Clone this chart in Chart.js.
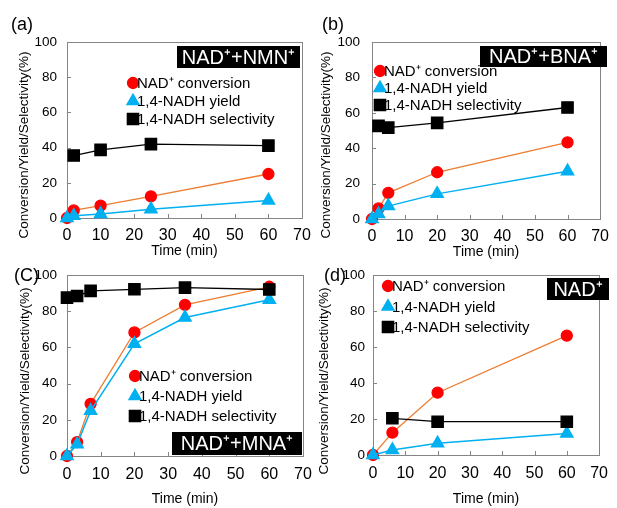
<!DOCTYPE html>
<html>
<head>
<meta charset="utf-8">
<script src="https://cdn.jsdelivr.net/npm/chart.js@4.4.1/dist/chart.umd.min.js"></script>
<style>
  body { margin: 0; background: #fff; }
  #wrap { position: relative; width: 617px; height: 508px; }
  #wrap canvas { position: absolute; left: 0; top: 0; }
</style>
</head>
<body>
<div id="wrap">
  <canvas id="chartA" width="617" height="508"></canvas>
  <canvas id="chartB" width="617" height="508"></canvas>
  <canvas id="chartC" width="617" height="508"></canvas>
  <canvas id="chartD" width="617" height="508"></canvas>
</div>
<script>
// tick labels
var xTicks = [0, 10, 20, 30, 40, 50, 60, 70];
var yTicks = [0, 20, 40, 60, 80, 100];

// series names
var seriesNames = ["NAD⁺ conversion", "1,4-NADH yield", "1,4-NADH selectivity"];

// (a) NAD+ + NMN+
var timeA = [0, 2, 10, 25, 60];
var convA = [0, 4.3, 7, 12.3, 25];
var yieldA = [0, 1.3, 2.3, 5, 10];
var selTimeA = [2, 10, 25, 60];
var selA = [35.5, 38.7, 42, 41.1];

// (b) NAD+ + BNA+
var timeB = [0, 2, 5, 20, 60];
var convB = [0, 6, 14.8, 26.4, 43.3];
var yieldB = [0, 2.8, 7.3, 14.2, 27];
var selTimeB = [2, 5, 20, 60];
var selB = [52.6, 51.6, 54.3, 63];

// (C) NAD+ + MNA+
var timeC = [0, 3, 7, 20, 35, 60];
var convC = [0, 7.7, 28.8, 68.3, 83.5, 93.5];
var yieldC = [0, 6.5, 25, 62, 76.5, 86.3];
var selTimeC = [0, 3, 7, 20, 35, 60];
var selC = [87.5, 88.4, 91.2, 92.1, 93, 92];

// (d) NAD+ only
var timeD = [0, 6, 20, 60];
var convD = [0, 12.4, 34.6, 66.3];
var yieldD = [0, 2.8, 6.5, 12];
var selTimeD = [6, 20, 60];
var selD = [20.4, 18.5, 18.5];

Chart.defaults.font.family = "'Liberation Sans', Arial, sans-serif";
Chart.defaults.color = "#000";

function pts(xs, ys) {
  return xs.map(function (x, i) { return { x: x, y: ys[i] }; });
}

// frame, inner ticks, panel label, tag, legend, y title
var decor = {
  id: "decor",
  beforeDatasetsDraw: function (chart) {
    var ctx = chart.ctx, a = chart.chartArea;
    ctx.save();
    ctx.strokeStyle = "#858585";
    ctx.lineWidth = 1;
    ctx.strokeRect(Math.round(a.left) + 0.5, Math.round(a.top) + 0.5,
      Math.round(a.right - a.left), Math.round(a.bottom - a.top));
    ctx.beginPath();
    chart.scales.y.ticks.forEach(function (t) {
      var py = Math.round(chart.scales.y.getPixelForValue(t.value)) + 0.5;
      ctx.moveTo(a.left, py); ctx.lineTo(a.left + 4, py);
    });
    chart.scales.x.ticks.forEach(function (t) {
      var px = Math.round(chart.scales.x.getPixelForValue(t.value)) + 0.5;
      ctx.moveTo(px, a.bottom); ctx.lineTo(px, a.bottom - 4);
    });
    ctx.stroke();
    ctx.restore();
  },
  afterDraw: function (chart, args, o) {
    var ctx = chart.ctx;
    ctx.save();
    var fam = "'Liberation Sans', Arial, sans-serif";

    // panel label
    ctx.fillStyle = "#000";
    ctx.font = "18px " + fam;
    ctx.textAlign = "left";
    ctx.textBaseline = "middle";
    ctx.fillText(o.label, o.lx, o.ly);

    // y axis title
    ctx.save();
    ctx.translate(o.ytX, o.ytY);
    ctx.rotate(-Math.PI / 2);
    ctx.font = "13.5px " + fam;
    ctx.textAlign = "center";
    ctx.fillText("Conversion/Yield/Selectivity(%)", 0, 0);
    ctx.restore();

    // black tag
    var b = o.tagBox;
    ctx.fillStyle = "#000";
    ctx.fillRect(b[0], b[1], b[2], b[3]);
    ctx.fillStyle = "#fff";
    ctx.font = "20px " + fam;
    ctx.textAlign = "center";
    ctx.fillText(o.tag, b[0] + b[2] / 2, b[1] + b[3] / 2 + 1);

    // legend
    ctx.font = "15px " + fam;
    ctx.textAlign = "left";
    chart.data.datasets.forEach(function (ds, i) {
      var y = o.legY + i * o.legGap;
      ctx.fillStyle = ds.pointBackgroundColor;
      ctx.strokeStyle = ds.pointBorderColor;
      Chart.helpers.drawPoint(ctx, {
        pointStyle: ds.pointStyle, radius: ds.pointRadius, rotation: 0, borderWidth: 1
      }, o.legX - 4, y);
      ctx.fillStyle = "#000";
      ctx.fillText(ds.label, o.legX, y + 1);
    });
    ctx.restore();
  }
};

function panel(id, t, conv, yld, ts, sel, L) {
  new Chart(document.getElementById(id), {
    type: "line",
    data: {
      datasets: [
        {
          label: seriesNames[0], data: pts(t, conv), order: 3, clip: false,
          borderColor: "#ED7D31", borderWidth: 1.3,
          pointStyle: "circle", pointRadius: 5.5,
          pointBackgroundColor: "#FF0000", pointBorderColor: "#FF0000"
        },
        {
          label: seriesNames[1], data: pts(t, yld), order: 2, clip: false,
          borderColor: "#00B0F0", borderWidth: 1.5,
          pointStyle: "triangle", pointRadius: 7,
          pointBackgroundColor: "#00B0F0", pointBorderColor: "#00B0F0"
        },
        {
          label: seriesNames[2], data: pts(ts, sel), order: 1, clip: false,
          borderColor: "#000", borderWidth: 1.3,
          pointStyle: "rect", pointRadius: 8,
          pointBackgroundColor: "#000", pointBorderColor: "#000"
        }
      ]
    },
    options: {
      responsive: false,
      animation: false,
      devicePixelRatio: 1,
      layout: { padding: L.pad },
      plugins: {
        legend: { display: false },
        tooltip: { enabled: false },
        decor: L.decor
      },
      scales: {
        x: {
          type: "linear",
          min: xTicks[0], max: xTicks[xTicks.length - 1],
          ticks: { stepSize: xTicks[1] - xTicks[0], padding: L.xPad, font: { size: 16 }, color: "#000" },
          grid: { display: false, drawTicks: false },
          border: { display: false },
          title: { display: true, text: "Time (min)", font: { size: 14 }, color: "#000", padding: { top: 0, bottom: L.xtPad } },
          afterFit: function (s) { s.height = L.xH; }
        },
        y: {
          min: yTicks[0], max: yTicks[yTicks.length - 1],
          ticks: { stepSize: yTicks[1] - yTicks[0], padding: L.yPad, font: { size: 13.5 }, color: "#000" },
          grid: { display: false, drawTicks: false },
          border: { display: false },
          afterFit: function (s) { s.width = 40; }
        }
      }
    },
    plugins: [decor]
  });
}

panel("chartA", timeA, convA, yieldA, selTimeA, selA, {
  pad: { left: 27, right: 315, top: 42, bottom: 245 }, xH: 45, xPad: 8, xtPad: 3, yPad: 10,
  decor: { label: "(a)", lx: 11, ly: 25, tag: "NAD⁺+NMN⁺", tagBox: [177, 46, 123, 22],
    legX: 137, legY: 83, legGap: 18, ytX: 24, ytY: 145 }
});
panel("chartB", timeB, convB, yieldB, selTimeB, selB, {
  pad: { left: 332, right: 9, top: 42, bottom: 244 }, xH: 45, xPad: 8, xtPad: 3, yPad: 12,
  decor: { label: "(b)", lx: 322, ly: 25, tag: "NAD⁺+BNA⁺", tagBox: [480, 46, 127, 21],
    legX: 384, legY: 71, legGap: 17, ytX: 326, ytY: 145 }
});
panel("chartC", timeC, convC, yieldC, selTimeC, selC, {
  pad: { left: 27, right: 314, top: 275, bottom: 0 }, xH: 52, xPad: 9, xtPad: 0, yPad: 10,
  decor: { label: "(C)", lx: 14, ly: 276, tag: "NAD⁺+MNA⁺", tagBox: [172, 432, 130, 23],
    legX: 139, legY: 376, legGap: 20, ytX: 25, ytY: 381 }
});
panel("chartD", timeD, convD, yieldD, selTimeD, selD, {
  pad: { left: 333, right: 7, top: 275, bottom: 0 }, xH: 53, xPad: 9, xtPad: 0, yPad: 8,
  decor: { label: "(d)", lx: 324, ly: 276, tag: "NAD⁺", tagBox: [547, 278, 62, 22],
    legX: 392, legY: 286, legGap: 20.5, ytX: 324, ytY: 381 }
});
</script>
</body>
</html>
